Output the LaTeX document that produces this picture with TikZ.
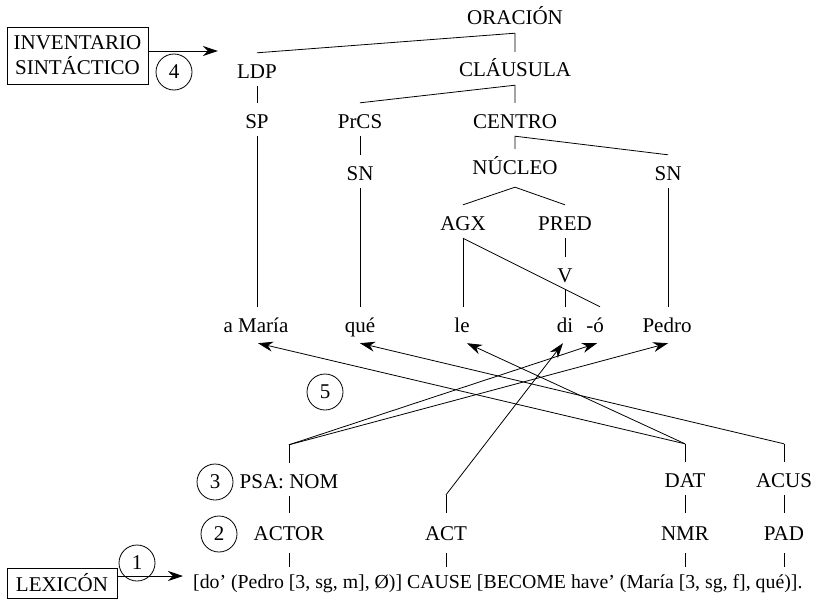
\documentclass[tikz,border=0pt]{standalone}
\usepackage{fontspec}
\setmainfont{Liberation Serif}
\usetikzlibrary{arrows.meta}
\newcommand{\lfont}{\fontsize{21}{25}\selectfont}
\newcommand{\ffont}{\fontsize{19.8}{24}\selectfont}
\begin{document}
\begin{tikzpicture}[x=1pt,y=-1pt,
  lbl/.style={inner sep=0pt, text height=25pt, text depth=8pt, anchor=base, font=\lfont},
  lblb/.style={inner sep=0pt, text height=27pt, text depth=13pt, anchor=base, font=\lfont},
  num/.style={draw, circle, line width=0.8pt, minimum size=36pt, inner sep=0pt, font=\lfont},
  boxed/.style={draw, line width=0.8pt, inner sep=0pt, align=center, font=\lfont},
  ln/.style={line width=0.8pt},
  arr/.style={ln, -{Stealth[length=15pt, width=10pt]}},
]
\useasboundingbox (0,0) rectangle (814,602);

% ---- tree ----
\node[lbl] (ORA) at (515,25) {ORACIÓN};
\node[lbl] (LDP) at (257,78) {LDP};
\node[lbl] (CLA) at (515,77) {CLÁUSULA};
\node[lbl] (SP) at (257,128) {SP};
\node[lbl] (PrCS) at (360,128) {PrCS};
\node[lbl] (CEN) at (515,128) {CENTRO};
\node[lbl] (SNa) at (360,180) {SN};
\node[lbl] (NUC) at (515,174) {NÚCLEO};
\node[lbl] (SNb) at (668,180) {SN};
\node[lbl] (AGX) at (463,230) {AGX};
\node[lbl] (PRED) at (565,230) {PRED};
\node[lbl] (V) at (565,282) {V};
\node[lbl] (aMaria) at (256,332) {a María};
\node[lbl] (que) at (360,332) {qué};
\node[lbl] (le) at (462,332) {le};
\node[lbl] (di) at (565,332) {di};
\node[lbl] (o) at (595,332) {-ó};
\node[lbl] (Pedro) at (667,332) {Pedro};

\draw[ln] (LDP.north) -- (ORA.south) -- (CLA.north);
\draw[ln] (PrCS.north) -- (CLA.south) -- (CEN.north);
\draw[ln] (NUC.north) -- (CEN.south) -- (SNb.north);
\draw[ln] (AGX.north) -- ([yshift=-5pt]NUC.south) -- (PRED.north);
\draw[ln] (LDP.south) -- (SP.north);
\draw[ln] (PrCS.south) -- (SNa.north);
\draw[ln] (SP.south) -- (SP.south |- aMaria.north);
\draw[ln] (SNa.south) -- (SNa.south |- que.north);
\draw[ln] (SNb.south) -- (SNb.south |- Pedro.north);
\draw[ln] (PRED.south) -- (V.north);
\draw[ln] (V.south) -- (V.south |- di.north);
\draw[ln] (AGX.south) -- (AGX.south |- le.north);
\draw[ln] (AGX.south) -- ([xshift=5pt]o.north);

% ---- inventory box ----
\node[boxed, minimum width=141pt, minimum height=57pt] (inv) at (77.5,55.5) {INVENTARIO\\SINTÁCTICO};
\node[num] (c4) at (174,72) {4};
\draw[arr, shorten >=19pt] ([yshift=4.5pt]inv.east) -- ([yshift=4.5pt]inv.east -| LDP.west);

% ---- bottom ----
\node[inner sep=0pt, text height=21pt, text depth=8pt, anchor=base west, font=\ffont] (F) at (193,588)
  {[do’ (Pedro [3, sg, m], Ø)] CAUSE [BECOME have’ (María [3, sg, f], qué)].};
\node[lbl] (PSA) at (289,488) {PSA: NOM};
\node[lbl] (DAT) at (685,487) {DAT};
\node[lbl] (ACUS) at (784,487) {ACUS};
\node[lblb] (ACTOR) at (289,540) {ACTOR};
\node[lblb] (ACT) at (446,540) {ACT};
\node[lblb] (NMR) at (685,540) {NMR};
\node[lblb] (PAD) at (784,540) {PAD};

\node[num] (c1) at (137,563) {1};
\node[num] (c2) at (219,534) {2};
\node[num] (c3) at (215,482) {3};
\node[num] (c5) at (325,392) {5};

\node[boxed, minimum width=110pt, minimum height=30pt] (lex) at (62,583) {LEXICÓN};
\draw[arr, shorten >=10pt] ([yshift=7pt]lex.east) -- ([yshift=7pt]lex.east -| F.west);

\draw[ln] (PSA.south) -- (ACTOR.north);
\draw[ln] (DAT.south) -- (NMR.north);
\draw[ln] (ACUS.south) -- (PAD.north);
\draw[ln] (ACTOR.south) -- (ACTOR.south |- F.north);
\draw[ln] (ACT.south) -- (ACT.south |- F.north);
\draw[ln] (NMR.south) -- (NMR.south |- F.north);
\draw[ln] (PAD.south) -- (PAD.south |- F.north);

\coordinate (cPSA) at ([yshift=18pt]PSA.north);
\coordinate (cDAT) at ([yshift=18pt]DAT.north);
\coordinate (cACUS) at ([yshift=18pt]ACUS.north);
\coordinate (cACT) at ([yshift=18pt]ACT.north);
\draw[ln] (PSA.north) -- (cPSA);
\draw[ln] (DAT.north) -- (cDAT);
\draw[ln] (ACUS.north) -- (cACUS);
\draw[ln] (ACT.north) -- (cACT);

\draw[arr] (cPSA) -- ([xshift=2pt,yshift=-3pt]o.south);
\draw[arr] (cPSA) -- ([xshift=1pt,yshift=-3pt]Pedro.south);
\draw[arr] (cDAT) -- ([xshift=2pt,yshift=-3pt]aMaria.south);
\draw[arr] (cDAT) -- ([xshift=5pt,yshift=-3pt]le.south);
\draw[arr] (cACUS) -- ([yshift=-3pt]que.south);
\draw[arr] (cACT) -- ([xshift=-2pt,yshift=-3pt]di.south);
\end{tikzpicture}
\end{document}
